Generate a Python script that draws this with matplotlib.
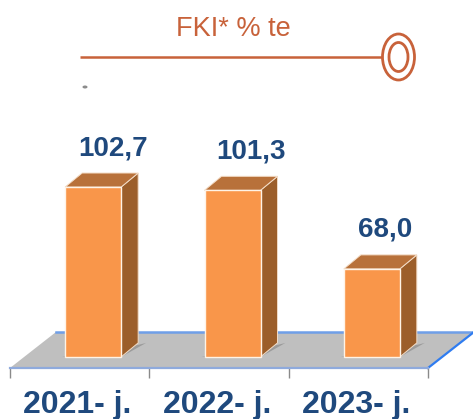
"""FKI bar chart with a hand-built 3D look."""

import matplotlib

matplotlib.use("Agg")
import matplotlib.pyplot as plt
from matplotlib.patches import Ellipse, Polygon
import numpy as np


W, H = 473, 419

FRONT = "#F9964A"
SIDE = "#9C5E2A"
TOP = "#B8713A"
FLOOR = "#BFBFBF"
SHADOW = "#8C8C8C"
EDGE_FRONT = "#8FAADC"
EDGE_BACK = "#6F9FE8"
EDGE_RIGHT = "#2F7CF0"
TICK = "#8A8A8A"
NAVY = "#1F497D"
RUST = "#C8623A"

title = "FKI* % te"
categories = ["2021- j.", "2022- j.", "2023- j."]
values = [102.7, 101.3, 68.0]
value_labels = ["102,7", "101,3", "68,0"]

plt.rcParams["font.family"] = ["Liberation Sans", "DejaVu Sans"]

# value axis does not start at zero in the original
Y_MIN, Y_MAX = 26, 140
BASE = 30.7

fig = plt.figure(figsize=(W / 100, H / 100), dpi=100, facecolor="white")

# pixel-space layer for the heading ornament
deco = fig.add_axes([0, 0, 1, 1])
deco.set_xlim(0, W)
deco.set_ylim(H, 0)
deco.axis("off")
deco.text(233, 29, title, ha="center", va="center", fontsize=19.5, color=RUST)
deco.plot([80, 382], [57, 57], color=RUST, lw=1.8, solid_capstyle="butt")
deco.add_patch(Ellipse((398.5, 57), 32, 46, fc="white", ec=RUST, lw=2.0))
deco.add_patch(Ellipse((398.5, 57), 19, 29, fc="white", ec=RUST, lw=2.0))
deco.add_patch(Ellipse((85, 87), 5, 3, fc="#8C8C8C", ec="none"))

ax = fig.add_axes([10 / W, (H - 368) / H, 418 / W, 269 / H])
ax.patch.set_alpha(0)
ax.set_xlim(-0.5, 2.5)
ax.set_ylim(Y_MIN, Y_MAX)
ax.set_xticks(np.arange(-0.5, 3, 1))
ax.set_xticklabels([])
ax.set_yticks([])
for side in ("top", "right", "left"):
    ax.spines[side].set_visible(False)
ax.spines["bottom"].set_color(EDGE_FRONT)
ax.spines["bottom"].set_linewidth(1.6)
ax.tick_params(axis="x", length=7, width=1.0, color=TICK)

# depth of the floor and of the bars, in axis units
x_px = 3 / 418
y_px = (Y_MAX - Y_MIN) / 269
fx, fy = 46 * x_px, 36 * y_px
dx, dy = 17 * x_px, 14 * y_px
shift = 13.5 * x_px
width = 56 * x_px

ax.add_patch(Polygon(
    [(-0.5, Y_MIN), (2.5, Y_MIN), (2.5 + fx, Y_MIN + fy), (-0.5 + fx, Y_MIN + fy)],
    fc=FLOOR, ec="none", clip_on=False, zorder=1,
))
ax.plot([-0.5 + fx, 2.5 + fx], [Y_MIN + fy] * 2, color=EDGE_BACK, lw=1.8,
        clip_on=False, zorder=1.5)
ax.plot([2.5, 2.5 + fx], [Y_MIN, Y_MIN + fy], color=EDGE_RIGHT, lw=1.6,
        clip_on=False, zorder=1.5)

xs = np.arange(len(values)) + shift
ax.bar(xs, np.array(values) - BASE, width, bottom=BASE, color=FRONT,
       edgecolor="#FFF3E6", linewidth=1.0, zorder=4)

# the labels are not quite centred the same way on each bar
label_nudge = [20, 18.5, 13]

for x, val, lab, nudge in zip(xs, values, value_labels, label_nudge):
    left, right = x - width / 2, x + width / 2
    ax.add_patch(Polygon(
        [(left - 3 * x_px, BASE), (right, BASE),
         (right + dx + 8 * x_px, BASE + dy), (right + dx, BASE + dy - 2 * y_px)],
        fc=SHADOW, ec="none", alpha=0.7, zorder=2,
    ))
    ax.add_patch(Polygon(
        [(right, BASE), (right + dx, BASE + dy), (right + dx, val + dy), (right, val)],
        fc=SIDE, ec="#F3DCC6", lw=0.7, zorder=3,
    ))
    ax.add_patch(Polygon(
        [(left, val), (right, val), (right + dx, val + dy), (left + dx, val + dy)],
        fc=TOP, ec="#F3DCC6", lw=0.7, zorder=3,
    ))
    ax.text(x + nudge * x_px, val + 39 * y_px, lab, ha="center", va="center",
            fontsize=20, fontweight="bold", color=NAVY, clip_on=False, zorder=5)

# category names sit in the middle of each tick interval
for i, cat in enumerate(categories):
    ax.annotate(cat, (i, 0), xycoords=("data", "axes fraction"), xytext=(-2, -37),
                textcoords="offset pixels", ha="center", va="center",
                fontsize=23, fontweight="bold", color=NAVY, annotation_clip=False)

fig.savefig("out.png", dpi=100, facecolor="white")
